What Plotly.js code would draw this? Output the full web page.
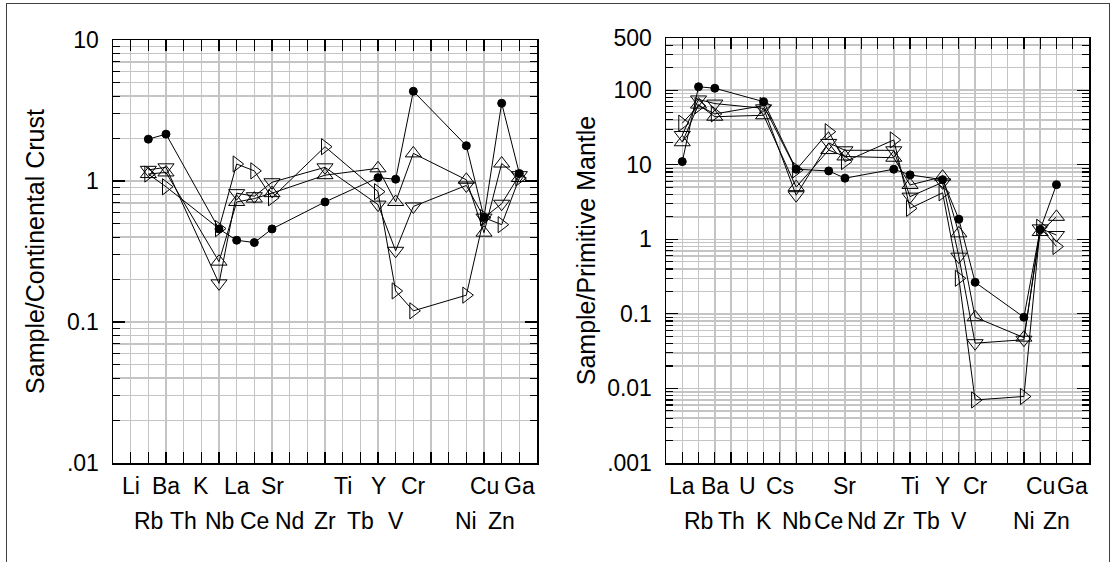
<!DOCTYPE html>
<html><head><meta charset="utf-8">
<script src="https://cdn.plot.ly/plotly-3.0.1.min.js"></script>
<style>
html,body{margin:0;padding:0;background:#fff;}
#wrap{position:relative;width:1116px;height:562px;overflow:hidden;}
#chart{width:1116px;height:562px;}
#frame{position:absolute;left:6px;top:3px;width:1102px;height:640px;border:1px solid #404040;pointer-events:none;}
</style></head><body>
<div id="wrap"><div id="chart"></div><div id="frame"></div></div>
<script>
// ---- Left panel: Sample / Continental Crust ----
const crustElements = ['Li','Rb','Ba','Th','K','Nb','La','Ce','Sr','Nd','','Zr','Ti','Tb','Y','V','Cr','','','Ni','Cu','Zn','Ga'];
const crustCircle = [null,1.98,2.15,null,null,0.457,0.38,0.366,0.457,null,null,0.71,null,null,1.056,1.03,4.33,null,null,1.78,0.552,3.56,1.13];
const crustUp     = [null,1.12,1.15,null,null,0.268,0.71,0.75,0.82,null,null,1.10,null,null,1.23,0.71,1.57,null,null,1.02,0.43,1.33,1.05];
const crustDown   = [null,1.20,1.25,null,null,0.188,0.82,0.78,0.98,null,null,1.25,null,null,0.68,0.32,0.66,null,null,0.93,0.55,0.69,1.10];
const crustRight  = [null,1.12,0.91,null,null,0.46,1.32,1.18,0.76,null,null,1.75,null,null,0.84,0.166,0.12,null,null,0.155,0.55,0.49,1.05];
const crustTickVals = [0.01,0.1,1,10];
const crustTickText = ['.01','0.1','1','10'];

// ---- Right panel: Sample / Primitive Mantle ----
const mantleElements = ['La','Rb','Ba','Th','U','K','Cs','Nb','','Ce','Sr','Nd','','Zr','Ti','Tb','Y','V','Cr','','','Ni','Cu','Zn','Ga'];
const mantleCircle = [11,111,106,null,null,70,null,8.7,null,8.25,6.6,null,null,8.7,7.3,null,6.3,1.86,0.265,null,null,0.09,1.35,5.4,null];
const mantleUp     = [20,64,44,null,null,46,null,5.0,null,15.7,12.9,null,null,12.4,5.35,null,6.9,1.2,0.09,null,null,0.048,1.25,2.0,null];
const mantleDown   = [25,75,66,null,null,57,null,3.9,null,19.6,15.6,null,null,15.6,3.73,null,5.8,0.585,0.0404,null,null,0.045,1.4,1.14,null];
const mantleRight  = [36,62,48,null,null,62,null,8.5,null,27.7,11,null,null,21.5,2.6,null,4.2,0.30,0.0070,null,null,0.0078,1.45,0.80,null];
const mantleTickVals = [0.001,0.01,0.1,1,10,100,500];
const mantleTickText = ['.001','0.01','0.1','1','10','100','500'];

const FONT = 'Liberation Sans, Arial, sans-serif';
const GRID = '#c4c4c4';

function positions(list){ return list.map((_,i)=>i+1); }
function minorVals(dLo, dHi, maxV){
  const out=[];
  for(let d=dLo; d<=dHi; d++){ for(let k=2;k<=9;k++){ const v=k*Math.pow(10,d); if(v<maxV) out.push(v);} }
  return out;
}

const markerStyle = {
  circle: {symbol:'circle', size:8, color:'#000', line:{color:'#000', width:1}},
  up:     {symbol:'triangle-up-open', size:14, color:'#000', line:{color:'#000', width:1}},
  down:   {symbol:'triangle-down-open', size:14, color:'#000', line:{color:'#000', width:1}},
  right:  {symbol:'triangle-right-open', size:14, color:'#000', line:{color:'#000', width:1}}
};

const traces=[];
function addSeries(list, seriesList, xa, ya){
  const xs = positions(list);
  seriesList.forEach(([vals, key])=>{
    traces.push({type:'scatter', mode:'lines+markers', x:xs, y:vals, xaxis:xa, yaxis:ya,
      connectgaps:true, line:{color:'#000', width:1}, marker:markerStyle[key], showlegend:false, hoverinfo:'skip'});
  });
}
addSeries(crustElements, [[crustRight,'right'],[crustDown,'down'],[crustUp,'up'],[crustCircle,'circle']], 'x', 'y');
addSeries(mantleElements, [[mantleRight,'right'],[mantleDown,'down'],[mantleUp,'up'],[mantleCircle,'circle']], 'x2', 'y2');

const H=562, W=1116;
function xAxis(list, domain, anchor){
  return {domain:domain, anchor:anchor, range:[0, list.length+1], tickvals:positions(list), showticklabels:false,
    ticks:'inside', ticklen:11, tickwidth:1.2, tickcolor:'#000', showline:true, linecolor:'#000', linewidth:1.5,
    mirror:'ticks', showgrid:true, gridcolor:GRID, gridwidth:1.5, zeroline:false, fixedrange:true};
}
function yAxis(domain, anchor, range, tv, tt, minors, title, standoff){
  return {domain:domain, anchor:anchor, type:'log', range:range, tickvals:tv, ticktext:tt,
    ticks:'inside', ticklen:12, tickwidth:1.2, tickcolor:'#000', showline:true, linecolor:'#000', linewidth:1.5,
    mirror:'ticks', showgrid:true, gridcolor:GRID, gridwidth:1.5, zeroline:false, fixedrange:true,
    tickfont:{family:FONT, size:23, color:'#000'}, ticklabelstandoff:8,
    minor:{tickvals:minors, ticks:'inside', ticklen:7, tickwidth:1.2, tickcolor:'#000', showgrid:true, gridcolor:GRID, gridwidth:1.5},
    title:{text:title, font:{family:FONT, size:25, color:'#000'}, standoff:standoff}};
}

const yDom1=[(H-463)/H,(H-40)/H], yDom2=[(H-463)/H,(H-38)/H];
const layout = {
  width:W, height:H, margin:{l:0,r:0,t:0,b:0}, paper_bgcolor:'#fff', plot_bgcolor:'#fff', showlegend:false,
  xaxis: xAxis(crustElements, [113/W, 537/W], 'y'),
  yaxis: yAxis(yDom1, 'x', [-2,1], crustTickVals, crustTickText, minorVals(-2,0,10), 'Sample/Continental Crust', 15),
  xaxis2: xAxis(mantleElements, [666/W, 1089/W], 'y2'),
  yaxis2: yAxis(yDom2, 'x2', [-3, Math.log10(500)], mantleTickVals, mantleTickText, minorVals(-3,2,500), 'Sample/Primitive Mantle', 4),
  annotations:[]
};
function addLabels(list, xref){
  list.forEach((el,i)=>{
    if(!el) return;
    const top = (i%2===0);
    layout.annotations.push({text:el, x:i+1, xref:xref, yref:'paper', y: top ? (H-486)/H : (H-521)/H,
      yanchor:'middle', xanchor:'center', showarrow:false, font:{family:FONT, size:23, color:'#000'}});
  });
}
addLabels(crustElements, 'x');
addLabels(mantleElements, 'x2');

Plotly.newPlot('chart', traces, layout, {staticPlot:true, displayModeBar:false});
</script>
</body></html>
